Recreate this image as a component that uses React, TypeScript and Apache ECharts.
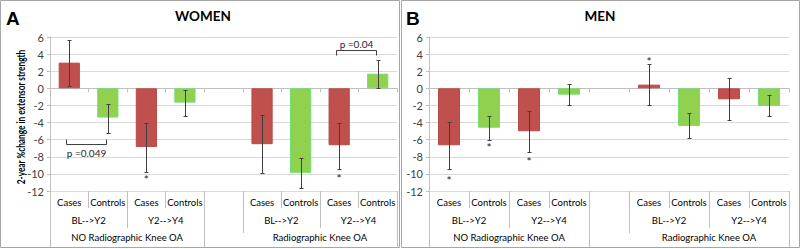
import React, { useEffect, useRef } from 'react';
import * as echarts from 'echarts';

// ---------- data ----------
const categories = ['Cases', 'Controls', 'Cases', 'Controls', '', 'Cases', 'Controls', 'Cases', 'Controls'];
const periodLabels = ['BL-->Y2', 'Y2-->Y4', '', 'BL-->Y2', 'Y2-->Y4'];
const periodSpans = [2, 2, 1, 2, 2];
const oaLabels = ['NO Radiographic Knee OA', '', 'Radiographic Knee OA'];
const oaSpans = [4, 1, 4];

const yMin = -12;
const yMax = 6;
const yStep = 2;

const womenMean = [3.0, -3.42, -6.85, -1.67, null, -6.53, -9.88, -6.65, 1.71];
const womenHigh = [5.68, -1.78, -4.0, -0.15, null, -3.15, -8.09, -4.0, 3.35];
const womenLow = [0.23, -5.17, -9.76, -3.23, null, -9.84, -11.63, -9.42, 0.04];
const womenStars = [null, null, -10.42, null, null, null, null, -10.35, null];
const womenBrackets = [
  [0, 1, -6.45, -5.95, -7.55],
  [7, 8, 4.43, 3.93, 5.2],
];
const womenBracketTexts = ['p =0.049', 'p =0.04'];

const menMean = [-6.65, -4.6, -5.02, -0.74, null, 0.43, -4.4, -1.28, -2.06];
const menHigh = [-3.92, -3.2, -2.6, 0.55, null, 2.8, -2.84, 1.2, -0.82];
const menLow = [-9.45, -6.0, -7.43, -2.0, null, -1.9, -5.8, -3.73, -3.27];
const menStars = [-10.58, -6.69, -8.32, null, null, 3.35, null, null, null];

const panelTitles = ['WOMEN', 'MEN'];
const panelLetters = ['A', 'B'];
const yAxisTitle = '2-year %change in extensor strength';

// ---------- styles ----------
const caseColor = '#C0504D';
const controlColor = '#92D050';
const controlBorder = '#6FE06F';
const lineGray = '#BFBFBF';
const gridGray = '#D9D9D9';
const errColor = '#404040';
const font = 'Lato, "Open Sans", sans-serif';

function spanPoints(labels: string[], spans: number[]) {
  const total = spans.reduce((a, b) => a + b, 0);
  const pts: string[] = new Array(2 * total + 1).fill('');
  const bounds: number[] = [];
  const fullBounds: number[] = [];
  const partBounds: number[] = [];
  let s = 0;
  labels.forEach((l, i) => {
    bounds.push(2 * s);
    if (i === 0 || labels[i - 1] !== '') fullBounds.push(2 * s);
    else partBounds.push(2 * s);
    pts[2 * s + spans[i]] = l;
    s += spans[i];
  });
  bounds.push(2 * s);
  fullBounds.push(2 * s);
  return { pts, bounds, fullBounds, partBounds };
}

const lvl2 = spanPoints(periodLabels, periodSpans);
const lvl3 = spanPoints(oaLabels, oaSpans);

function buildPanel(gi: number, mean: any[], high: any[], low: any[], stars: any[], brackets: any[], bracketTexts: string[]) {
  const base = gi * 5;
  const catLabel = { fontFamily: font, fontSize: 9.5, color: '#000' };
  const xAxes: any[] = [
    {
      gridIndex: gi, type: 'category', data: categories, position: 'bottom',
      axisLine: { onZero: true, lineStyle: { color: lineGray } },
      axisTick: { show: true, length: 4, interval: 0, lineStyle: { color: lineGray } },
      axisLabel: { show: false },
    },
    {
      gridIndex: gi, type: 'category', data: categories, position: 'bottom',
      axisLine: { show: false, onZero: false },
      axisTick: { show: true, length: 17, interval: 0, lineStyle: { color: lineGray } },
      axisLabel: { ...catLabel, interval: 0, margin: 6.5 },
    },
    {
      gridIndex: gi, type: 'category', data: lvl2.pts, boundaryGap: false, position: 'bottom',
      axisLine: { show: false, onZero: false },
      axisTick: { show: true, length: 37, interval: (i: number) => lvl2.bounds.includes(i), lineStyle: { color: lineGray } },
      axisLabel: { ...catLabel, interval: (_i: number, v: string) => v !== '', margin: 24 },
    },
    {
      gridIndex: gi, type: 'category', data: lvl3.pts, boundaryGap: false, position: 'bottom',
      axisLine: { show: false, onZero: false },
      axisTick: { show: true, length: 56, interval: (i: number) => lvl3.fullBounds.includes(i), lineStyle: { color: lineGray } },
      axisLabel: { ...catLabel, interval: (_i: number, v: string) => v !== '', margin: 41.5 },
    },
    {
      gridIndex: gi, type: 'category', data: lvl3.pts, boundaryGap: false, position: 'bottom',
      axisLine: { show: false, onZero: false },
      axisTick: { show: true, length: 42, interval: (i: number) => lvl3.partBounds.includes(i), lineStyle: { color: lineGray } },
      axisLabel: { show: false },
    },
  ];

  const yAxis: any = {
    gridIndex: gi, type: 'value', min: yMin, max: yMax, interval: yStep,
    axisLine: { show: true, lineStyle: { color: lineGray } },
    axisTick: { show: true, length: 3, lineStyle: { color: lineGray } },
    splitLine: { show: true, lineStyle: { color: gridGray } },
    axisLabel: { fontFamily: font, fontSize: 11, color: '#404040', margin: 6 },
  };

  const series: any[] = [
    {
      type: 'bar', xAxisIndex: base, yAxisIndex: gi, barWidth: '55%',
      data: mean.map((m, i) =>
        m == null
          ? '-'
          : {
              value: m,
              itemStyle: categories[i] === 'Cases'
                ? { color: caseColor, borderColor: '#B84A47', borderWidth: 1 }
                : { color: controlColor, borderColor: controlBorder, borderWidth: 1 },
            }
      ),
    },
    {
      type: 'custom', xAxisIndex: base, yAxisIndex: gi, z: 5,
      data: mean.map((m, i) => (m == null ? null : [i, high[i], low[i]])).filter((d) => d),
      renderItem: (_p: any, api: any) => {
        const t = api.coord([api.value(0), api.value(1)]);
        const b = api.coord([api.value(0), api.value(2)]);
        const cx = Math.round(t[0]) + 0.5;
        const ty = Math.round(t[1]) + 0.5;
        const by = Math.round(b[1]) + 0.5;
        const st = { stroke: errColor, lineWidth: 1 };
        return {
          type: 'group',
          children: [
            { type: 'line', shape: { x1: cx, y1: ty, x2: cx, y2: by }, style: st },
            { type: 'line', shape: { x1: cx - 2, y1: ty, x2: cx + 2, y2: ty }, style: st },
            { type: 'line', shape: { x1: cx - 2, y1: by, x2: cx + 2, y2: by }, style: st },
          ],
        };
      },
    },
    {
      type: 'custom', xAxisIndex: base, yAxisIndex: gi, z: 6,
      data: stars.map((s, i) => (s == null ? null : [i, s])).filter((d) => d),
      renderItem: (_p: any, api: any) => {
        const c = api.coord([api.value(0), api.value(1)]);
        return {
          type: 'text', x: c[0], y: c[1] + 2,
          style: { text: '*', font: `12px ${font}`, fill: '#262626', align: 'center', verticalAlign: 'middle' },
        };
      },
    },
    {
      type: 'custom', xAxisIndex: base, yAxisIndex: gi, z: 6,
      data: brackets,
      renderItem: (p: any, api: any) => {
        const a = api.coord([api.value(0), api.value(2)]);
        const b = api.coord([api.value(1), api.value(2)]);
        const tip = api.coord([api.value(0), api.value(3)]);
        const tx = api.coord([api.value(0), api.value(4)]);
        const x1 = Math.round(a[0]) - 2.5;
        const x2 = Math.round(b[0]) - 1.5;
        const y = Math.round(a[1]) + 0.5;
        const yt = Math.round(tip[1]) + 0.5;
        return {
          type: 'group',
          children: [
            {
              type: 'polyline',
              shape: { points: [[x1, yt], [x1, y], [x2, y], [x2, yt]] },
              style: { stroke: '#404040', lineWidth: 1, fill: 'none' },
            },
            {
              type: 'text', x: (x1 + x2) / 2, y: tx[1],
              style: { text: bracketTexts[p.dataIndex], font: `10px ${font}`, fill: '#262626', align: 'center', verticalAlign: 'middle' },
            },
          ],
        };
      },
    },
  ];

  return { xAxes, yAxis, series };
}

export default function App() {
  const ref = useRef<HTMLDivElement>(null);

  useEffect(() => {
    document.body.style.margin = '0';
    if (!ref.current) return;
    const chart = echarts.init(ref.current, null, { renderer: 'svg' });
    const pW = buildPanel(0, womenMean, womenHigh, womenLow, womenStars, womenBrackets, womenBracketTexts);
    const pM = buildPanel(1, menMean, menHigh, menLow, menStars, [], []);

    const frameStyle = { stroke: '#A6A6A6', lineWidth: 1, fill: 'none' };
    chart.setOption({
      animation: false,
      backgroundColor: '#fff',
      grid: [
        { left: 50, top: 37, width: 347, height: 154 },
        { left: 429, top: 37, width: 360, height: 154 },
      ],
      xAxis: [...pW.xAxes, ...pM.xAxes],
      yAxis: [pW.yAxis, pM.yAxis],
      series: [...pW.series, ...pM.series],
      graphic: [
        { type: 'rect', shape: { x: 0.5, y: 0.5, width: 399, height: 247 }, style: frameStyle, silent: true },
        { type: 'rect', shape: { x: 401.5, y: 0.5, width: 398, height: 247 }, style: frameStyle, silent: true },
        { type: 'text', x: 6, y: 18, style: { text: panelLetters[0], font: 'bold 19px "Liberation Sans", Arial, sans-serif', fill: '#000', align: 'left', verticalAlign: 'middle' } },
        { type: 'text', x: 406, y: 18, style: { text: panelLetters[1], font: 'bold 19px "Liberation Sans", Arial, sans-serif', fill: '#000', align: 'left', verticalAlign: 'middle' } },
        { type: 'text', x: 203, y: 16, style: { text: panelTitles[0], font: `bold 13.5px ${font}`, fill: '#000', align: 'center', verticalAlign: 'middle' } },
        { type: 'text', x: 600, y: 16, style: { text: panelTitles[1], font: `bold 13.5px ${font}`, fill: '#000', align: 'center', verticalAlign: 'middle' } },
        {
          type: 'text', x: 20, y: 117, rotation: Math.PI / 2, scaleX: 0.72,
          style: { text: yAxisTitle, font: `bold 11.5px ${font}`, fill: '#000', align: 'center', verticalAlign: 'middle' },
        },
      ],
    });
    return () => chart.dispose();
  }, []);

  return <div ref={ref} style={{ width: 800, height: 249 }} />;
}
